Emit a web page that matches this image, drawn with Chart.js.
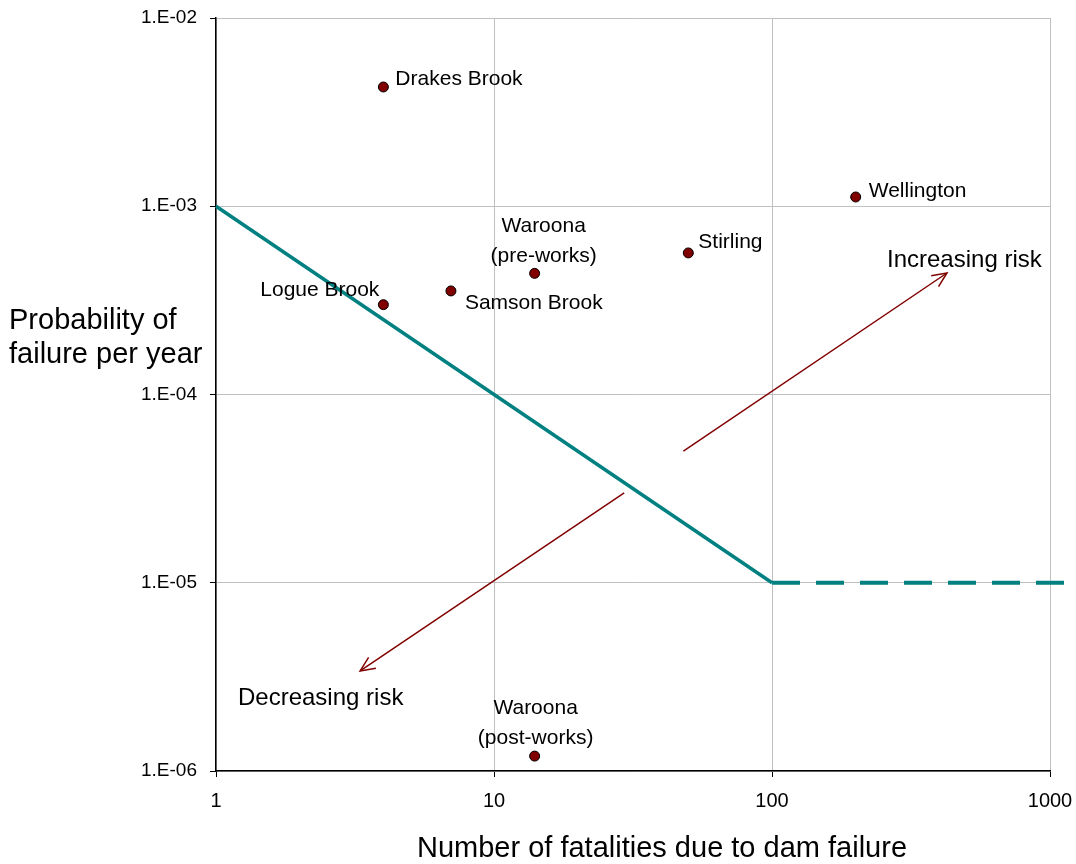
<!DOCTYPE html>
<html>
<head>
<meta charset="utf-8">
<script src="https://cdn.jsdelivr.net/npm/chart.js@4.4.1/dist/chart.umd.min.js"></script>
<style>
  html, body { margin: 0; padding: 0; background: #fff; }
  #wrap { width: 1076px; height: 864px; position: relative; }
</style>
</head>
<body>
<div id="wrap"><canvas id="c" width="1076" height="864"></canvas></div>
<script>
// Dams: number of fatalities vs annual probability of failure
const damNames = ['Drakes Brook', 'Logue Brook', 'Samson Brook', 'Waroona\n(pre-works)', 'Stirling', 'Wellington', 'Waroona\n(post-works)'];
const damFatalities = [4, 4, 7, 14, 50, 200, 14];
const damProbability = [4.3e-3, 3.0e-4, 3.55e-4, 4.4e-4, 5.65e-4, 1.12e-3, 1.2e-6];

// Tolerability limit line: sloped part and flat (dashed) extension
const limitSlopeX = [1, 100];
const limitSlopeY = [1e-3, 1e-5];
const limitFlatX = [100, 1160];
const limitFlatY = [1e-5, 1e-5];

// Risk-direction arrows [fromX, fromY, toX, toY]
const arrowIncreasing = [48, 5.0e-5, 426, 4.42e-4];
const arrowDecreasing = [29.4, 3.0e-5, 3.3, 3.4e-6];

// Axis ticks
const xTicks = [1, 10, 100, 1000];
const yTicks = [1e-6, 1e-5, 1e-4, 1e-3, 1e-2];
const yTickLabels = ['1.E-06', '1.E-05', '1.E-04', '1.E-03', '1.E-02'];

// label placement relative to each marker: [dx, dy, align]
const labelPlacement = [
  [12, -8, 'left'],
  [-4, -14, 'right'],
  [14, 12, 'left'],
  [9, -47, 'center'],
  [10, -11, 'left'],
  [13, -6, 'left'],
  [1, -48, 'center']
];

const FONT = '"Liberation Sans", Arial, sans-serif';

const annotations = {
  id: 'annotations',
  afterDatasetsDraw(chart) {
    const ctx = chart.ctx;
    const xs = chart.scales.x, ys = chart.scales.y;
    ctx.save();

    // arrows
    function arrow(a) {
      const x0 = xs.getPixelForValue(a[0]), y0 = ys.getPixelForValue(a[1]);
      const x1 = xs.getPixelForValue(a[2]), y1 = ys.getPixelForValue(a[3]);
      ctx.strokeStyle = '#800000';
      ctx.lineWidth = 1.5;
      ctx.beginPath();
      ctx.moveTo(x0, y0); ctx.lineTo(x1, y1); ctx.stroke();
      const ang = Math.atan2(y1 - y0, x1 - x0);
      const len = 16, spread = 0.42;
      ctx.beginPath();
      ctx.moveTo(x1 - len * Math.cos(ang - spread), y1 - len * Math.sin(ang - spread));
      ctx.lineTo(x1, y1);
      ctx.lineTo(x1 - len * Math.cos(ang + spread), y1 - len * Math.sin(ang + spread));
      ctx.stroke();
    }
    arrow(arrowIncreasing);
    arrow(arrowDecreasing);

    // point labels
    ctx.fillStyle = '#000';
    ctx.font = '21px ' + FONT;
    ctx.textBaseline = 'middle';
    damNames.forEach((name, i) => {
      const px = xs.getPixelForValue(damFatalities[i]);
      const py = ys.getPixelForValue(damProbability[i]);
      const p = labelPlacement[i];
      ctx.textAlign = p[2];
      name.split('\n').forEach((line, k) => {
        ctx.fillText(line, px + p[0], py + p[1] + k * 30);
      });
    });

    // risk direction captions
    ctx.font = '24px ' + FONT;
    ctx.textAlign = 'left';
    ctx.fillText('Increasing risk', 887, 260);
    ctx.fillText('Decreasing risk', 238, 698);

    // axis titles
    ctx.font = '29px ' + FONT;
    ctx.textAlign = 'left';
    ctx.fillText('Probability of', 9, 321);
    ctx.fillText('failure per year', 9, 355);
    ctx.textAlign = 'center';
    ctx.fillText('Number of fatalities due to dam failure', 662, 849);
    ctx.restore();
  }
};

new Chart(document.getElementById('c'), {
  type: 'scatter',
  data: {
    datasets: [
      {
        label: 'Limit',
        data: limitSlopeX.map((x, i) => ({ x, y: limitSlopeY[i] })),
        showLine: true,
        borderColor: '#008080',
        borderWidth: 3.5,
        pointRadius: 0,
        clip: false,
        order: 2
      },
      {
        label: 'Limit extension',
        data: limitFlatX.map((x, i) => ({ x, y: limitFlatY[i] })),
        showLine: true,
        borderColor: '#008080',
        borderWidth: 4,
        borderDash: [28, 16],
        pointRadius: 0,
        clip: false,
        order: 2
      },
      {
        label: 'Dams',
        data: damFatalities.map((x, i) => ({ x, y: damProbability[i] })),
        pointRadius: 5,
        pointBackgroundColor: '#800000',
        pointBorderColor: '#000',
        pointBorderWidth: 1,
        order: 1
      }
    ]
  },
  options: {
    responsive: false,
    animation: false,
    devicePixelRatio: 1,
    layout: { padding: { top: 18, right: 26, left: 0, bottom: 0 } },
    plugins: { legend: { display: false }, tooltip: { enabled: false } },
    scales: {
      x: {
        type: 'logarithmic',
        min: 1, max: 1000,
        afterBuildTicks(s) { s.ticks = xTicks.map(v => ({ value: v })); },
        afterFit(s) { s.height = 93; s.paddingLeft = 0; s.paddingRight = 0; },
        grid: { color: '#c0c0c0', lineWidth: 1, tickLength: 6, tickColor: '#000', drawOnChartArea: true },
        border: { color: '#000', width: 1.5 },
        ticks: {
          color: '#000',
          font: { family: FONT, size: 20 },
          padding: 12,
          maxRotation: 0,
          autoSkip: false,
          callback: v => String(v)
        }
      },
      y: {
        type: 'logarithmic',
        min: 1e-6, max: 1e-2,
        afterBuildTicks(s) { s.ticks = yTicks.map(v => ({ value: v })); },
        afterFit(s) { s.width = 216; s.paddingTop = 0; s.paddingBottom = 0; },
        grid: { color: '#c0c0c0', lineWidth: 1, tickLength: 6, tickColor: '#000' },
        border: { color: '#000', width: 1.5 },
        ticks: {
          color: '#000',
          font: { family: FONT, size: 19 },
          padding: 13,
          autoSkip: false,
          callback: v => yTickLabels[yTicks.findIndex(t => Math.abs(Math.log10(t) - Math.log10(v)) < 1e-6)]
        }
      }
    }
  },
  plugins: [annotations]
});
</script>
</body>
</html>
